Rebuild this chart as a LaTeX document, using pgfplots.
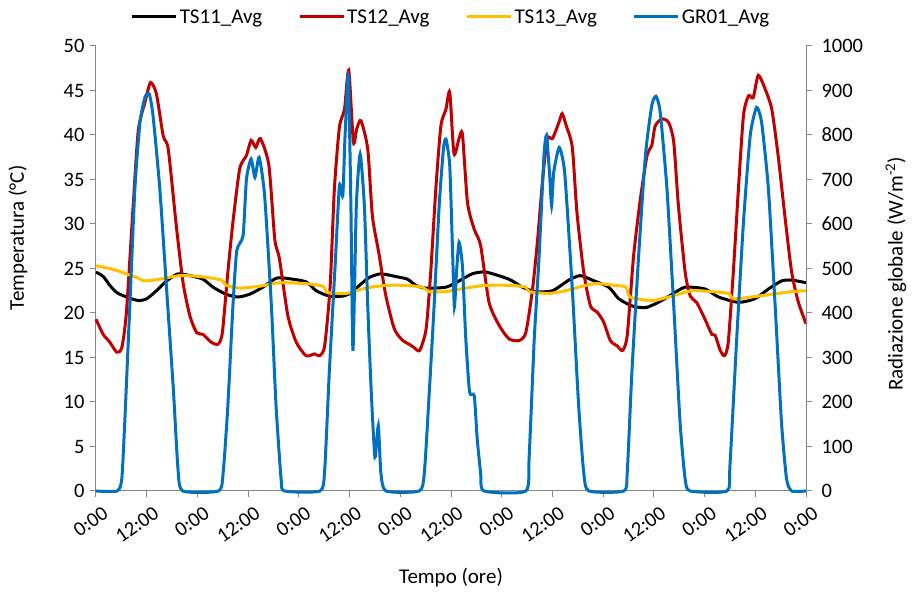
\documentclass[border=0pt]{standalone}
\usepackage{fontspec}
\setmainfont{Carlito}
\usepackage{pgfplots}
\pgfplotsset{compat=1.18}
\usepackage{pgfplotstable}

\definecolor{ts11}{RGB}{0,0,0}
\definecolor{ts12}{RGB}{192,0,0}
\definecolor{ts13}{RGB}{255,192,0}
\definecolor{gr01}{RGB}{0,112,192}
\definecolor{axisgray}{RGB}{134,134,134}

% TS11_Avg (temperatura, asse sinistro)
\pgfplotstableread{
t T
0 24.6
1.7 24.1
3.3 23.1
4.9 22.3
7.2 21.8
10 21.4
12 21.6
14.3 22.5
16.7 23.6
19.4 24.4
22.2 24.2
25.3 23.8
27.7 22.9
30.8 22.1
33.6 21.8
36.3 22.1
39.5 22.9
42.6 23.9
45 23.9
49.7 23.5
52.1 22.5
55.2 21.9
58.4 21.9
60.5 22.3
62.3 23.1
64.7 24.0
67.4 24.4
70.9 24.1
73.7 23.8
75.7 23.1
78.1 22.8
82.8 22.9
85.9 23.6
89 24.4
92.2 24.6
97.7 23.8
100.9 22.9
104 22.4
108 22.5
111.9 23.7
114.6 24.2
117.4 23.7
121.3 22.9
123.7 21.6
126.8 20.8
130 20.6
133.1 21.2
136.3 22.1
139.4 22.9
144.1 22.7
147.3 21.8
152 21.2
155.9 21.6
159.1 22.7
162.2 23.6
164.6 23.7
168 23.4
}\tsA

% TS12_Avg
\pgfplotstableread{
t T
0 19.3
1.7 17.6
3.3 16.7
4.9 15.6
6.1 16.1
7.2 20.1
8.8 32.1
10 40.5
11.6 43.7
12.9 45.9
14.3 44.6
15.9 39.9
17.1 38.4
19 29.8
20.6 23.4
22.2 19.7
23.8 17.8
25.3 17.6
27.3 16.7
28.9 16.5
29.9 17.8
31.2 24.6
32.4 30.2
34 36.2
35.6 37.7
36.7 39.4
37.8 38.6
38.9 39.6
40.9 36.6
42.3 28.3
43.4 26.1
45.4 19.7
47.4 16.7
49.7 15.2
51.7 15.4
52.9 15.2
54.1 16.3
55.4 23
56.4 33.9
57.6 40.9
58.8 42.9
59.8 47.3
60.9 39.2
61.7 40.7
62.7 41.6
64.3 38.4
65.4 30.9
66.9 26.8
68.6 21.9
70.6 18.2
72.6 16.9
74.1 16.5
75.3 16.1
76.6 15.8
78.1 18.2
79.2 24.6
80.4 33.9
81.6 41
82.8 42.9
83.7 44.8
84.7 37.9
85.9 39.6
86.7 40.1
87.9 32.4
89.5 29.4
91 27.6
93 21.2
95.4 18.6
97.7 17.1
100.1 16.9
101.7 17.8
103.3 22.7
104.5 28.3
105.7 35.1
106.8 39.6
108 39.6
109.6 41.5
110.3 42.4
111.3 41
112.7 38.6
113.8 31.3
115.4 24.6
117 20.8
118.6 20.1
120.1 19
121.7 16.9
123.3 16.3
124.6 15.8
125.7 17.5
127.2 26.4
128.8 32.8
130.4 37.7
131.5 38.8
132.3 41
133.9 41.8
135.5 41.4
136.7 39.2
137.8 32.1
139.4 24.6
140.6 21.9
142.1 21.2
144.1 19.3
145.7 17.6
146.5 17.5
147.7 15.8
148.7 15.2
149.6 16.7
150.8 24.6
152 33.9
153.2 42.2
154.4 44.4
155.5 44.2
156.7 46.7
158.3 45.2
159.9 42.9
161.4 37.7
163 30.9
164.6 24.6
166.2 21.2
168 18.8
}\tsB

% TS13_Avg
\pgfplotstableread{
t T
0 25.3
4.1 24.9
7.2 24.4
9.6 24.0
11.6 23.6
15.1 23.8
19.8 24.2
24.5 24.1
29.7 23.7
30.8 23.1
34 22.8
38.7 23.0
43.4 23.4
49.7 23.3
53.7 23.0
54.8 22.3
59.2 22.2
63.9 22.8
68.6 23.1
73.4 23.1
77.3 22.9
78.8 22.4
82.8 22.4
87.5 22.8
92.2 23.1
98.5 23.1
101.7 22.9
102.5 22.4
107.2 22.2
111.1 22.5
114.2 22.9
118.2 23.3
122.9 23.1
125.4 22.9
126.4 21.8
131.6 21.4
136.3 21.9
141 22.5
145.7 22.4
149.6 22.2
150.8 21.6
155.1 21.8
159.9 22.1
164.6 22.4
168 22.5
}\tsC

% GR01_Avg (radiazione, asse destro)
\pgfplotstableread{
t R
0 0
5 0
6.1 27
6.8 154
8 416
9.2 679
10.4 828
11.6 885
12.6 892
13.5 843
15.1 679
16.7 454
18.3 229
19.4 49
20.5 0
29 0
30.1 42
31.2 192
32.4 416
33.3 540
34.8 574
35.6 701
36.7 746
37.6 705
38.6 750
39.9 664
41.5 416
42.6 192
43.8 27
44.6 0
53 0
54.1 45
55.2 267
56.6 510
57.6 686
58.4 664
58.9 791
59.7 933
60.3 650
60.8 315
61.6 641
62.5 757
63.5 641
64.3 416
65.1 229
66 76
66.8 147
67.4 42
68.6 0
76.5 0
77.7 42
78.9 229
80 416
81.2 641
82.2 768
82.8 791
83.7 731
84.4 529
84.8 413
85.3 491
85.9 559
86.7 506
87.5 342
88.4 222
89.5 214
90.2 117
91 42
91.8 0
101.7 0
102.5 79
103.7 342
104.8 520
106 754
106.6 799
107.3 716
107.8 641
108.3 716
109.6 772
110.9 715
112.7 454
114.2 192
115.4 42
116.6 0
124.9 0
125.7 42
126.8 267
128.4 529
130 754
131.5 866
132.5 887
133.5 851
135.1 679
136.7 416
138.2 154
139.4 27
140.6 0
149.3 0
150 57
151.6 342
153.2 604
154.8 799
156.3 862
157.5 828
159.1 679
160.7 416
162.2 154
163.4 27
164.6 0
168 0
}\grA

\begin{document}
\begin{tikzpicture}
\useasboundingbox (-96pt,-113pt) rectangle (824pt,491pt);
\pgfplotsset{
  every axis/.append style={
    scale only axis, width=710pt, height=445pt,
    at={(0pt,0pt)}, anchor=south west,
    xmin=0, xmax=168, clip=false,
    axis line style={axisgray, line width=1pt, -},
    tick style={axisgray, line width=1pt},
    major tick length=6pt, tick align=outside,
    ticklabel style={font=\fontsize{20.5}{24}\selectfont},
    /pgf/number format/assume math mode=true,
    /pgf/number format/1000 sep={},
  },
}
\begin{axis}[
  axis y line*=left, axis x line*=bottom,
  ymin=0, ymax=50, ytick={0,5,...,50},
  xtick={0,12,...,168},
  xticklabels={0:00,12:00,0:00,12:00,0:00,12:00,0:00,12:00,0:00,12:00,0:00,12:00,0:00,12:00,0:00},
  xticklabel style={rotate=35, anchor=north east, inner sep=1pt, xshift=1pt, yshift=-9pt},
  yticklabel style={xshift=-2pt},
  xlabel={Tempo (ore)},
  every axis x label/.style={at={(axis description cs:0.5,0)}, yshift=-87pt, anchor=center, font=\fontsize{21}{25}\selectfont},
  ylabel={Temperatura (°C)},
  every axis y label/.style={at={(axis description cs:0,0.569)}, xshift=-78pt, rotate=90, anchor=center, font=\fontsize{21}{25}\selectfont},
  legend style={at={(axis description cs:0.5,1)}, anchor=center, yshift=29pt,
    draw=none, fill=none, legend columns=4, inner sep=0pt,
    font=\fontsize{21}{25}\selectfont,
    /tikz/every even column/.append style={column sep=34pt}},
  legend image code/.code={\draw[#1] (0pt,0pt) -- (44pt,0pt);},
]
\addplot[ts11, line width=3pt, smooth, tension=0.4] table {\tsA};
\addlegendentry{TS11\_Avg}
\addplot[ts12, line width=3pt, smooth, tension=0.4] table {\tsB};
\addlegendentry{TS12\_Avg}
\addplot[ts13, line width=3pt, smooth, tension=0.4] table {\tsC};
\addlegendentry{TS13\_Avg}
\addlegendimage{gr01, line width=3pt}
\addlegendentry{GR01\_Avg}
\end{axis}
\begin{axis}[
  axis y line*=right, axis x line=none,
  ymin=0, ymax=1000, ytick={0,100,...,1000},
  yticklabel style={anchor=west, xshift=6pt},
  ylabel={Radiazione globale (W/m\textsuperscript{-2})},
  every axis y label/.style={at={(axis description cs:1,0.488)}, xshift=90pt, rotate=90, anchor=center, font=\fontsize{21}{25}\selectfont},
]
\addplot[gr01, line width=3pt, smooth, tension=0.35] table {\grA};
\end{axis}
\end{tikzpicture}
\end{document}
